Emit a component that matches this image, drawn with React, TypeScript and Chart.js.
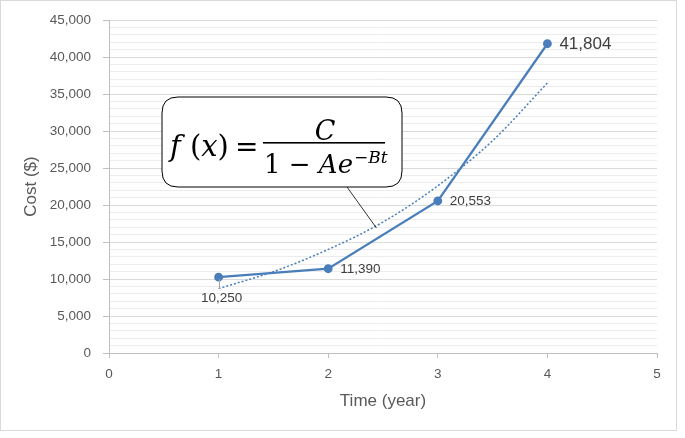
import React, { useEffect, useRef } from 'react';
import { Chart, registerables } from 'chart.js';

Chart.register(...registerables);

// ---- data ----
const years = [1, 2, 3, 4];
const costs = [10250, 11390, 20553, 41804];
const trendYears = [1, 1.5, 2, 2.5, 3, 3.5, 4];
const trendCosts = [8700, 11000, 14000, 17700, 22600, 28700, 36500];
const xTickValues = [0, 1, 2, 3, 4, 5];
const yMajorStep = 5000;
const yMinorStep = 1000;
const yMax = 45000;
const labelPlacement = ['below', 'right', 'right', 'right'];
const labelSizes = [13.5, 13.5, 13.5, 17];

const FONT = '"Liberation Sans", Arial, sans-serif';
const MATH = '"DejaVu Serif", serif';
const BLUE = '#4a7ebb';
const TEXT = '#595959';

const fmt = (v: number) => String(Math.round(v)).replace(/\B(?=(\d{3})+(?!\d))/g, ',');

const decorPlugin = {
  id: 'decor',
  beforeDraw(chart: any) {
    const { ctx, width, height } = chart;
    ctx.save();
    ctx.fillStyle = '#ffffff';
    ctx.fillRect(0, 0, width, height);
    ctx.restore();
  },
  afterDraw(chart: any) {
    const ctx = chart.ctx;
    ctx.save();
    ctx.strokeStyle = '#d9d9d9';
    ctx.lineWidth = 1;
    ctx.strokeRect(0.5, 0.5, 676, 430);
    ctx.restore();
  },
  afterDatasetsDraw(chart: any) {
    const ctx = chart.ctx;
    const meta = chart.getDatasetMeta(0);
    ctx.save();
    meta.data.forEach((pt: any, i: number) => {
      const text = fmt(costs[i]);
      const size = labelSizes[i];
      ctx.font = `${size}px ${FONT}`;
      ctx.fillStyle = '#404040';
      ctx.textBaseline = 'middle';
      if (labelPlacement[i] === 'below') {
        ctx.strokeStyle = '#a6a6a6';
        ctx.lineWidth = 1;
        ctx.beginPath();
        ctx.moveTo(Math.round(pt.x) + 0.5, pt.y + 2);
        ctx.lineTo(Math.round(pt.x) + 0.5, pt.y + 12);
        ctx.stroke();
        ctx.textAlign = 'center';
        ctx.fillText(text, pt.x + 3, pt.y + 21);
      } else {
        ctx.textAlign = 'left';
        ctx.fillText(text, pt.x + 12, pt.y + 0.5);
      }
    });

    // callout with formula
    const xs = chart.scales.x;
    const ys = chart.scales.y;
    const bx = 162, by = 97, bw = 240, bh = 90, r = 16;
    const tipX = xs.getPixelForValue(2.44);
    const tipY = ys.getPixelForValue(16900);
    ctx.strokeStyle = '#000';
    ctx.lineWidth = 0.8;
    ctx.beginPath();
    ctx.moveTo(347, by + bh);
    ctx.lineTo(tipX, tipY);
    ctx.stroke();

    ctx.beginPath();
    ctx.moveTo(bx + r, by);
    ctx.lineTo(bx + bw - r, by);
    ctx.quadraticCurveTo(bx + bw, by, bx + bw, by + r);
    ctx.lineTo(bx + bw, by + bh - r);
    ctx.quadraticCurveTo(bx + bw, by + bh, bx + bw - r, by + bh);
    ctx.lineTo(bx + r, by + bh);
    ctx.quadraticCurveTo(bx, by + bh, bx, by + bh - r);
    ctx.lineTo(bx, by + r);
    ctx.quadraticCurveTo(bx, by, bx + r, by);
    ctx.closePath();
    ctx.fillStyle = '#fff';
    ctx.fill();
    ctx.lineWidth = 1;
    ctx.stroke();

    ctx.fillStyle = '#000';
    ctx.textBaseline = 'alphabetic';
    ctx.textAlign = 'left';
    const draw = (parts: [string, boolean][], x: number, y: number, size: number) => {
      let cx = x;
      parts.forEach(([s, it]) => {
        ctx.font = `${it ? 'italic ' : ''}${size}px ${MATH}`;
        ctx.fillText(s, cx, y);
        cx += ctx.measureText(s).width;
      });
      return cx;
    };
    draw([['f', true], [' ', false], ['(', false], ['x', true], [')', false]], 170, 156, 29);
    ctx.font = `28px ${MATH}`;
    ctx.fillText('=', 235, 156);
    ctx.font = `italic 27px ${MATH}`;
    ctx.textAlign = 'center';
    ctx.fillText('C', 325, 140);
    ctx.textAlign = 'left';
    ctx.fillRect(263, 142, 122, 1.6);
    const end = draw([['1', false], [' \u2212 ', false], ['A', true], ['e', true]], 264, 173, 26);
    draw([['\u2212', false], ['B', true], ['t', true]], end + 1, 163, 17);
    ctx.restore();
  },
};

export default function App() {
  const ref = useRef<HTMLCanvasElement | null>(null);
  useEffect(() => {
    if (!ref.current) return;
    const chart = new Chart(ref.current, {
      type: 'line',
      data: {
        datasets: [
          {
            label: 'Cost',
            data: years.map((x, i) => ({ x, y: costs[i] })),
            borderColor: BLUE,
            backgroundColor: BLUE,
            borderWidth: 2.25,
            pointRadius: 3.3,
            pointBackgroundColor: BLUE,
            pointBorderColor: BLUE,
            tension: 0,
          },
          {
            label: 'Trend',
            data: trendYears.map((x, i) => ({ x, y: trendCosts[i] })),
            borderColor: BLUE,
            borderWidth: 1.5,
            borderDash: [2, 2],
            pointRadius: 0,
            cubicInterpolationMode: 'monotone',
          },
        ],
      },
      options: {
        animation: false,
        responsive: false,
        layout: { padding: { left: 0, right: 28, top: 17, bottom: 0 } },
        plugins: { legend: { display: false }, tooltip: { enabled: false } },
        scales: {
          x: {
            type: 'linear',
            min: 0,
            max: 5,
            afterBuildTicks: (s: any) => {
              s.ticks = xTickValues.map((v) => ({ value: v }));
            },
            ticks: { padding: 8, color: TEXT, font: { family: FONT, size: 13.5 } },
            grid: { drawOnChartArea: false, tickLength: 5, tickColor: '#bfbfbf' },
            border: { color: '#bfbfbf' },
            title: {
              display: true,
              text: 'Time (year)',
              color: TEXT,
              font: { family: FONT, size: 17 },
              padding: { top: 0, bottom: 26 },
            },
            afterFit: (s: any) => {
              s.height = 85;
            },
          },
          y: {
            min: 0,
            max: yMax,
            ticks: {
              stepSize: yMinorStep,
              autoSkip: false,
              padding: 12,
              color: TEXT,
              font: { family: FONT, size: 13.5 },
              callback: (v: any) => (Number(v) % yMajorStep === 0 ? fmt(Number(v)) : ''),
            },
            grid: {
              color: (c: any) => (c.tick && c.tick.value % yMajorStep === 0 ? '#d9d9d9' : '#ececec'),
              tickColor: (c: any) => (c.tick && c.tick.value % yMajorStep === 0 ? '#bfbfbf' : 'rgba(0,0,0,0)'),
              tickLength: 6,
            },
            border: { color: '#bfbfbf' },
            title: {
              display: true,
              text: 'Cost ($)',
              color: TEXT,
              font: { family: FONT, size: 17 },
              padding: { top: 21, bottom: 0 },
            },
            afterFit: (s: any) => {
              s.width = 109;
            },
          },
        },
      },
      plugins: [decorPlugin],
    } as any);
    return () => chart.destroy();
  }, []);
  return (
    <div style={{ position: 'absolute', left: 0, top: 0, width: 685, height: 438 }}>
      <canvas ref={ref} width={685} height={438} />
    </div>
  );
}
